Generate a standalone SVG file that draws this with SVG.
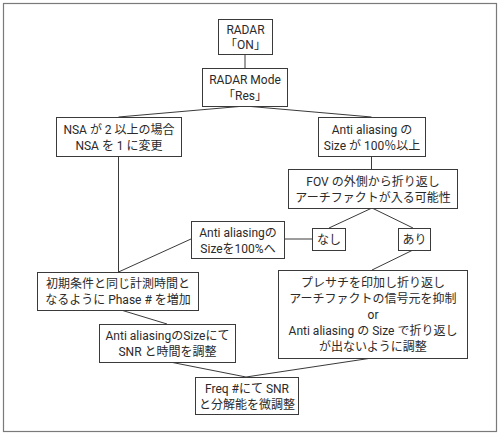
<svg xmlns="http://www.w3.org/2000/svg" width="500" height="435" viewBox="0 0 500 435">
<style>
.frame{fill:#fff;stroke:#7a7a7a;stroke-width:1.2}
.box{fill:#fff;stroke:#3a3a3a;stroke-width:1}
.conn line{stroke:#3a3a3a;stroke-width:1}
text{font-family:Roboto,"Noto Sans CJK JP",sans-serif;font-size:12px;fill:#2a2a2a;text-anchor:middle;dominant-baseline:central}
</style>
<rect class="frame" x="3.5" y="3.5" width="493" height="428"/>
<g id="connectors" class="conn">
<line x1="245" y1="54" x2="245" y2="68"/>
<line x1="245" y1="106" x2="118.5" y2="117"/>
<line x1="245" y1="106" x2="371.5" y2="117"/>
<line x1="118.5" y1="156" x2="118.5" y2="272"/>
<line x1="371.5" y1="156" x2="371.5" y2="169"/>
<line x1="372" y1="208" x2="329" y2="228"/>
<line x1="372" y1="208" x2="413" y2="228"/>
<line x1="312" y1="239" x2="284" y2="239"/>
<line x1="191" y1="239" x2="118.5" y2="272"/>
<line x1="413" y1="250" x2="372" y2="270"/>
<line x1="121" y1="310" x2="167" y2="324"/>
<line x1="170" y1="362" x2="246" y2="377"/>
<line x1="372" y1="358" x2="246" y2="377"/>
</g>
<g id="n1"><rect class="box" x="218.5" y="19.5" width="54" height="35"/><text x="245.5" y="29.5">RADAR</text><text x="245.5" y="45">「ON」</text></g>
<g id="n2"><rect class="box" x="202.5" y="68.5" width="85" height="38"/><text x="245" y="80">RADAR Mode</text><text x="245" y="96">「Res」</text></g>
<g id="n3"><rect class="box" x="56.5" y="117.5" width="125" height="39"/><text x="119" y="129.5">NSA が 2 以上の場合</text><text x="119" y="145.5">NSA を 1 に変更</text></g>
<g id="n4"><rect class="box" x="318.5" y="117.5" width="107" height="39"/><text x="372" y="129.5">Anti aliasing の</text><text x="372" y="145.5">Size が 100％以上</text></g>
<g id="n5"><rect class="box" x="288.5" y="169.5" width="169" height="39"/><text x="373" y="182">FOV の外側から折り返し</text><text x="373" y="198">アーチファクトが入る可能性</text></g>
<g id="n6"><rect class="box" x="312.5" y="228.5" width="33" height="22"/><text x="329" y="240">なし</text></g>
<g id="n7"><rect class="box" x="398.5" y="228.5" width="32" height="22"/><text x="414.5" y="240">あり</text></g>
<g id="n8"><rect class="box" x="191.5" y="221.5" width="93" height="37"/><text x="238" y="232.5">Anti aliasingの</text><text x="238" y="248.5">Sizeを100%へ</text></g>
<g id="n9"><rect class="box" x="37.5" y="272.5" width="161" height="38"/><text x="118" y="284">初期条件と同じ計測時間と</text><text x="118" y="300">なるように Phase # を増加</text></g>
<g id="n10"><rect class="box" x="278.5" y="270.5" width="189" height="88"/><text x="373" y="283">プレサチを印加し折り返し</text><text x="373" y="299">アーチファクトの信号元を抑制</text><text x="373" y="315">or</text><text x="373" y="331">Anti aliasing の Size で折り返し</text><text x="373" y="347">が出ないように調整</text></g>
<g id="n11"><rect class="box" x="99.5" y="324.5" width="136" height="38"/><text x="167.5" y="336">Anti aliasingのSizeにて</text><text x="167.5" y="352">SNR と時間を調整</text></g>
<g id="n12"><rect class="box" x="195.5" y="377.5" width="103" height="37"/><text x="247" y="389">Freq #にて SNR</text><text x="247" y="405">と分解能を微調整</text></g>
</svg>
